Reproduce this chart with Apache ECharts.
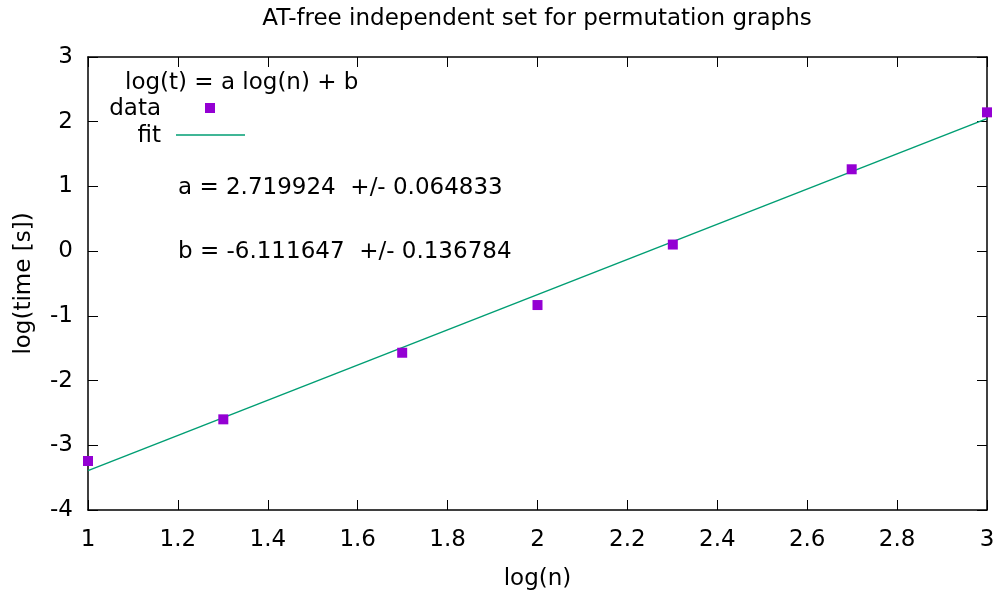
<!DOCTYPE html>
<html>
<head>
<meta charset="utf-8">
<script src="https://cdn.jsdelivr.net/npm/echarts@6/dist/echarts.min.js"></script>
<style>
  html, body { margin: 0; padding: 0; background: #fff; }
  #chart { width: 999px; height: 593px; }
</style>
</head>
<body>
<div id="chart"></div>
<script>
// Measured runtimes, log10 scale
const logN = [1, 1.30103, 1.69897, 2, 2.30103, 2.69897, 3];
const logT = [-3.243, -2.599, -1.570, -0.833, 0.102, 1.265, 2.145];

// Least-squares fit log(t) = a log(n) + b
const fitA = 2.719924, fitAErr = 0.064833;
const fitB = -6.111647, fitBErr = 0.136784;
const fitRange = [1, 3];

const xTicks = { min: 1, max: 3, interval: 0.2 };
const yTicks = { min: -4, max: 3, interval: 1 };

const FONT = 'DejaVu Sans';
const FS = 23;
const violet = '#9400D3';
const green = '#009E73';

const fitLine = fitRange.map(x => [x, fitA * x + fitB]);

const chart = echarts.init(document.getElementById('chart'), null, { renderer: 'canvas' });

const grid = { left: 88, right: 12, top: 57, bottom: 83, containLabel: false, outerBoundsMode: 'none' };
const axisLine = { show: true, onZero: false, lineStyle: { color: '#000', width: 1.5 } };
const tick = { show: true, inside: true, length: 10, lineStyle: { color: '#000', width: 1 } };

function fmtX(v) {
  return String(Math.round(v * 10) / 10);
}

function txt(s, x, y, align) {
  return {
    type: 'text',
    style: {
      text: s, x: x, y: y, align: align || 'left', verticalAlign: 'middle',
      font: FS + 'px "' + FONT + '"', fill: '#000'
    }
  };
}

chart.setOption({
  animation: false,
  backgroundColor: '#fff',
  textStyle: { fontFamily: FONT },
  grid: grid,
  xAxis: [
    {
      type: 'value', min: xTicks.min, max: xTicks.max, interval: xTicks.interval,
      position: 'bottom',
      name: 'log(n)', nameLocation: 'middle', nameGap: 58,
      nameTextStyle: { fontFamily: FONT, fontSize: FS, color: '#000' },
      axisLine: axisLine, axisTick: tick,
      axisLabel: { fontFamily: FONT, fontSize: FS, color: '#000', margin: 19, formatter: fmtX },
      splitLine: { show: false }
    },
    {
      type: 'value', min: xTicks.min, max: xTicks.max, interval: xTicks.interval,
      position: 'top',
      axisLine: axisLine, axisTick: tick, axisLabel: { show: false },
      splitLine: { show: false }
    }
  ],
  yAxis: [
    {
      type: 'value', min: yTicks.min, max: yTicks.max, interval: yTicks.interval,
      position: 'left',
      name: 'log(time [s])', nameLocation: 'middle', nameGap: 52, nameRotate: 90,
      nameTextStyle: { fontFamily: FONT, fontSize: FS, color: '#000' },
      axisLine: axisLine, axisTick: tick,
      axisLabel: { fontFamily: FONT, fontSize: FS, color: '#000', margin: 15 },
      splitLine: { show: false }
    },
    {
      type: 'value', min: yTicks.min, max: yTicks.max, interval: yTicks.interval,
      position: 'right',
      axisLine: axisLine, axisTick: tick, axisLabel: { show: false },
      splitLine: { show: false }
    }
  ],
  series: [
    {
      name: 'fit', type: 'line', data: fitLine, symbol: 'none',
      lineStyle: { color: green, width: 1.5 }, z: 2
    },
    {
      name: 'data', type: 'scatter', data: logN.map((x, i) => [x, logT[i]]),
      symbol: 'rect', symbolSize: 10,
      itemStyle: { color: violet, opacity: 1 }, z: 3
    }
  ],
  graphic: [
    txt('AT-free independent set for permutation graphs', 537, 19, 'center'),
    txt('log(t) = a log(n) + b', 125, 83),
    txt('data', 161, 109, 'right'),
    {
      type: 'rect', shape: { x: 205, y: 103, width: 10, height: 10 },
      style: { fill: violet }
    },
    txt('fit', 161, 136, 'right'),
    {
      type: 'line', shape: { x1: 176, y1: 135, x2: 245, y2: 135 },
      style: { stroke: green, lineWidth: 1.5 }
    },
    txt('a = ' + fitA.toFixed(6) + '  +/- ' + fitAErr.toFixed(6), 178, 188),
    txt('b = ' + fitB.toFixed(6) + '  +/- ' + fitBErr.toFixed(6), 178, 252)
  ]
});
</script>
</body>
</html>
